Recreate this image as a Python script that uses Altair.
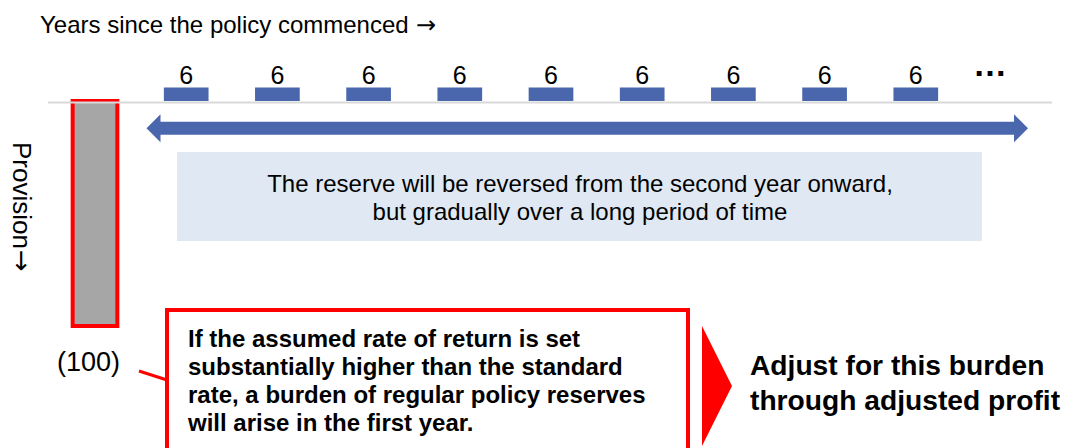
import altair as alt
import pandas as pd

# ---- data ----
years = [1, 2, 3, 4, 5, 6, 7, 8, 9, 10]
provision = [-100, 6, 6, 6, 6, 6, 6, 6, 6, 6]
bar_labels = ["(100)", "6", "6", "6", "6", "6", "6", "6", "6", "6"]
bar_kind = ["initial"] + ["reversal"] * 9

top_title = "Years since the policy commenced"
side_title = "Provision"
arrow_glyph = "→"
more_mark = "…"
box_text = ["The reserve will be reversed from the second year onward,",
            "but gradually over a long period of time"]
note_text = ["If the assumed rate of return is set",
             "substantially higher than the standard",
             "rate, a burden of regular policy reserves",
             "will arise in the first year."]
adjust_text = ["Adjust for this burden", "through adjusted profit"]

df = pd.DataFrame({
    "year": years,
    "provision": provision,
    "label": bar_labels,
    "kind": bar_kind,
})
df["x1"] = df["year"] - 0.245
df["x2"] = df["year"] + 0.245
df["zero"] = 0

FONT = "Liberation Sans"
ARROW_FONT = "DejaVu Sans"
BLUE = "#4A66AC"
RED = "#FF0000"

W, H = 1058, 440
xs = alt.Scale(domain=[0.046, 11.647], nice=False, zero=False)
ys = alt.Scale(domain=[-154.22, 41.33], nice=False, zero=False)

base = alt.Chart(df)
one = pd.DataFrame({"a": [0]})

baseline = alt.Chart(one).mark_rule(
    color="#D9D9D9", strokeWidth=2
).encode(x=alt.value(40), x2=alt.value(1044), y=alt.value(94.5))

initial_bar = base.transform_filter(alt.datum.kind == "initial").mark_bar(
    fill="#A6A6A6", stroke=RED, strokeWidth=4
).encode(
    x=alt.X("x1:Q", scale=xs, axis=None), x2="x2:Q",
    y=alt.Y("provision:Q", scale=ys, axis=None), y2="zero:Q",
)

rev_bars = base.transform_filter(alt.datum.kind == "reversal").mark_bar(
    color=BLUE
).encode(
    x=alt.X("x1:Q", scale=xs, axis=None), x2="x2:Q",
    y=alt.Y("provision:Q", scale=ys, axis=None), y2="zero:Q",
)

rev_labels = base.transform_filter(alt.datum.kind == "reversal").mark_text(
    font=FONT, fontSize=25, color="black", baseline="alphabetic", dy=-3
).encode(
    x=alt.X("year:Q", scale=xs, axis=None),
    y=alt.Y("provision:Q", scale=ys, axis=None),
    text="label:N",
)

init_label = base.transform_filter(alt.datum.kind == "initial").mark_text(
    font=FONT, fontSize=27, color="black", baseline="alphabetic", dy=45, dx=-6.5
).encode(
    x=alt.X("year:Q", scale=xs, axis=None),
    y=alt.Y("provision:Q", scale=ys, axis=None),
    text="label:N",
)

title_txt = alt.Chart(one).mark_text(
    text=top_title, font=FONT, fontSize=24, align="left", baseline="alphabetic", color="black"
).encode(x=alt.value(32), y=alt.value(25))
title_arrow = alt.Chart(one).mark_text(
    text=arrow_glyph, font=ARROW_FONT, fontSize=24, align="left", baseline="alphabetic", color="black"
).encode(x=alt.value(408), y=alt.value(25))

side_txt = alt.Chart(one).mark_text(
    text=side_title, font=FONT, fontSize=26, align="left", baseline="middle", angle=90, color="black"
).encode(x=alt.value(13), y=alt.value(134))
side_arrow = alt.Chart(one).mark_text(
    text=arrow_glyph, font=ARROW_FONT, fontSize=26, align="left", baseline="middle", angle=90, color="black"
).encode(x=alt.value(13), y=alt.value(242))

more_txt = alt.Chart(one).mark_text(
    text=more_mark, font=FONT, fontSize=34, fontWeight="bold", align="center", baseline="alphabetic", color="black"
).encode(x=alt.value(982), y=alt.value(68))

# double-headed arrow
shaft = alt.Chart(one).mark_rule(color=BLUE, strokeWidth=13, strokeCap="butt").encode(
    x=alt.value(150), x2=alt.value(1010), y=alt.value(120.3))
head_l = alt.Chart(one).mark_point(
    shape="M -0.5 0 L 0.5 -1 L 0.5 1 Z", size=784, filled=True, color=BLUE, opacity=1, strokeWidth=0
).encode(x=alt.value(145.5), y=alt.value(120.3))
head_r = alt.Chart(one).mark_point(
    shape="M 0.5 0 L -0.5 -1 L -0.5 1 Z", size=784, filled=True, color=BLUE, opacity=1, strokeWidth=0
).encode(x=alt.value(1013), y=alt.value(120.3))

# light blue box
info_box = alt.Chart(one).mark_rect(color="#DFE8F3").encode(
    x=alt.value(169), x2=alt.value(974), y=alt.value(144), y2=alt.value(233))
info_txt = alt.Chart(one).mark_text(
    text=box_text, font=FONT, fontSize=24, lineHeight=28, align="center", baseline="alphabetic", color="black"
).encode(x=alt.value(572), y=alt.value(184))

# red note box
connector = alt.Chart(one).mark_rule(color=RED, strokeWidth=3).encode(
    x=alt.value(131), x2=alt.value(159), y=alt.value(363), y2=alt.value(372))
note_box = alt.Chart(one).mark_rect(fill="white", stroke=RED, strokeWidth=4).encode(
    x=alt.value(159), x2=alt.value(680), y=alt.value(302), y2=alt.value(470))
note_txt = alt.Chart(one).mark_text(
    text=note_text, font=FONT, fontSize=24, fontWeight="bold", lineHeight=28,
    align="left", baseline="alphabetic", color="black"
).encode(x=alt.value(180), y=alt.value(339))

# red triangle + adjust text
tri = alt.Chart(one).mark_point(
    shape="M -0.25 -1 L 0.25 0 L -0.25 1 Z", size=14400, filled=True, color=RED, opacity=1, strokeWidth=0
).encode(x=alt.value(709), y=alt.value(378))
adjust_txt = alt.Chart(one).mark_text(
    text=adjust_text, font=FONT, fontSize=28.2, fontWeight="bold", lineHeight=35,
    align="left", baseline="alphabetic", color="black"
).encode(x=alt.value(742), y=alt.value(367))

chart = alt.layer(
    initial_bar, baseline, rev_bars, rev_labels, init_label,
    title_txt, title_arrow, side_txt, side_arrow, more_txt, shaft, head_l, head_r,
    info_box, info_txt, connector, note_box, note_txt, tri, adjust_txt,
).properties(
    width=W, height=H, autosize=alt.AutoSizeParams(type="none"), padding=0,
    background="white",
).configure_view(stroke=None)

chart.save("out.html", embed_options={"renderer": "svg", "actions": False})
